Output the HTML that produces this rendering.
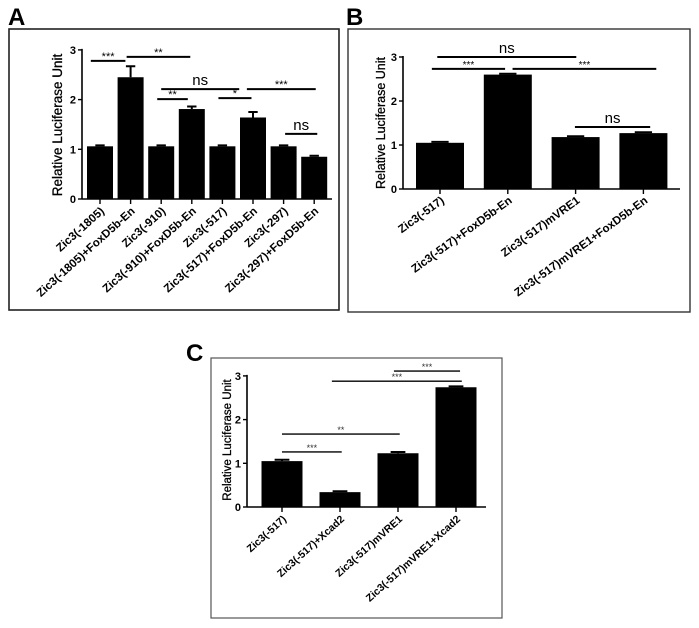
<!DOCTYPE html>
<html><head><meta charset="utf-8"><style>
html,body{margin:0;padding:0;background:#fff;}
svg{display:block;font-family:"Liberation Sans",sans-serif;}
</style></head><body>
<svg id="fig" width="699" height="628" viewBox="0 0 699 628">
  <text x="8" y="25" font-size="24" font-weight="bold">A</text>
  <rect x="9" y="29" width="330" height="281" fill="none" stroke="#222" stroke-width="1.6"/>
  <text x="346" y="25" font-size="24" font-weight="bold">B</text>
  <rect x="348" y="29" width="342" height="283" fill="none" stroke="#333" stroke-width="1.4"/>
  <text x="186" y="361" font-size="24" font-weight="bold">C</text>
  <rect x="211" y="358" width="291" height="260" fill="none" stroke="#555" stroke-width="1.2"/>
</svg>
<script>
// Panel A data
const catsA = ["Zic3(-1805)","Zic3(-1805)+FoxD5b-En","Zic3(-910)","Zic3(-910)+FoxD5b-En","Zic3(-517)","Zic3(-517)+FoxD5b-En","Zic3(-297)","Zic3(-297)+FoxD5b-En"];
const valsA = [1.06, 2.45, 1.06, 1.81, 1.06, 1.64, 1.06, 0.85];
const errsA = [0.02, 0.22, 0.02, 0.05, 0.02, 0.11, 0.02, 0.02];
const sigA = [[-0.3,0.83,2.78,"***"],[0.87,2.95,2.86,"**"],[2.0,4.55,2.21,"ns"],[1.87,2.87,2.01,"**"],[3.87,4.95,2.03,"*"],[4.8,7.05,2.21,"***"],[6.05,7.1,1.31,"ns"]];
// Panel B data
const catsB = ["Zic3(-517)","Zic3(-517)+FoxD5b-En","Zic3(-517)mVRE1","Zic3(-517)mVRE1+FoxD5b-En"];
const valsB = [1.05, 2.6, 1.18, 1.27];
const errsB = [0.02, 0.02, 0.02, 0.02];
const sigB = [[-0.04,2.01,3.0,"ns"],[-0.12,0.96,2.73,"***"],[1.07,3.19,2.73,"***"],[1.99,3.1,1.41,"ns"]];
// Panel C data
const catsC = ["Zic3(-517)","Zic3(-517)+Xcad2","Zic3(-517)mVRE1","Zic3(-517)mVRE1+Xcad2"];
const valsC = [1.05, 0.34, 1.23, 2.74];
const errsC = [0.03, 0.02, 0.03, 0.02];
const sigC = [[1.93,3.07,3.11,"***"],[0.86,3.1,2.88,"***"],[0,2.03,1.67,"**"],[0,1.03,1.26,"***"]];
const yTicks = [0,1,2,3];

const NS="http://www.w3.org/2000/svg";
const svg=document.getElementById('fig');
function mk(tag,attrs,parent){const e=document.createElementNS(NS,tag);for(const k in attrs)e.setAttribute(k,attrs[k]);(parent||svg).appendChild(e);return e;}

function panel(p){
  const g=mk('g',{});
  
  
  const y=v=>p.y0-v*p.unit;
  const x=i=>p.c0+i*p.step;
  p.vals.forEach((v,i)=>{
    const r=mk('rect',{x:x(i)-p.bw/2,y:y(v),width:p.bw,height:p.y0-y(v),fill:'#000'},g);
    
    
    const e=p.errs[i];
    const eb=mk('path',{d:`M${x(i)} ${y(v)} V${y(v+e)} M${x(i)-p.bw*0.18} ${y(v+e)} H${x(i)+p.bw*0.18}`,stroke:'#000','stroke-width':2,fill:'none'},g);
    
    
  });
  const ya=mk('line',{x1:p.ax,y1:y(3)-1,x2:p.ax,y2:p.y0,stroke:'#000','stroke-width':1.6},g);
  
  
  const xa=mk('line',{x1:p.ax,y1:p.y0,x2:p.axEnd,y2:p.y0,stroke:'#000','stroke-width':1.6},g);
  
  
  yTicks.forEach(t=>{
    mk('line',{x1:p.ax-4,y1:y(t),x2:p.ax,y2:y(t),stroke:'#000','stroke-width':1.4},g);
    const tx=mk('text',{x:p.ax-6,y:y(t)+4,'text-anchor':'end','font-size':11,'font-weight':'bold'},g);
    tx.textContent=t;
    
    
  });
  const yl=mk('text',{x:0,y:0,transform:`translate(${p.ylx},${p.yly}) rotate(-90)`,'text-anchor':'middle','font-size':p.ylfs,'stroke':'#000','stroke-width':0.3},g);
  yl.textContent='Relative Luciferase Unit';
  
  
  p.cats.forEach((c,i)=>{
    mk('line',{x1:x(i),y1:p.y0,x2:x(i),y2:p.y0+5,stroke:'#000','stroke-width':1.4},g);
    const lx=x(i)+5, ly=p.y0+13;
    const t=mk('text',{x:0,y:0,transform:`translate(${lx},${ly}) rotate(${p.rot})`,'text-anchor':'end','font-size':p.xfs,'font-weight':'bold'},g);
    t.textContent=c;
    
    
  });
  p.sig.forEach((s,k)=>{
    const l=mk('line',{x1:x(s[0]),y1:y(s[2]),x2:x(s[1]),y2:y(s[2]),stroke:'#000','stroke-width':p.sw},g);
    
    
    const ns=s[3]==='ns';
    const t=mk('text',{x:(x(s[0])+x(s[1]))/2,y:y(s[2])-(ns?4:1),'text-anchor':'middle','font-size':ns?p.nsfs:p.stfs,fill:p.stcol},g);
    t.textContent=s[3];
    
    
  });
}
panel({name:'panel-a',cats:catsA,vals:valsA,errs:errsA,sig:sigA,y0:199,unit:49.7,c0:100,step:30.6,bw:26,ax:82,axEnd:332,ylx:62,yly:125,ylfs:13.5,xfs:11.5,rot:-42,sw:2,nsfs:15,stfs:11,stcol:'#000'});
panel({name:'panel-b',cats:catsB,vals:valsB,errs:errsB,sig:sigB,y0:189,unit:44,c0:440,step:67.8,bw:48,ax:403,axEnd:680,ylx:385,yly:123,ylfs:12.5,xfs:11.5,rot:-36,sw:2,nsfs:15,stfs:10,stcol:'#000'});
panel({name:'panel-c',cats:catsC,vals:valsC,errs:errsC,sig:sigC,y0:507,unit:43.7,c0:282,step:58,bw:41,ax:247,axEnd:486,ylx:231,yly:440,ylfs:11.5,xfs:10.5,rot:-42,sw:1.4,nsfs:13,stfs:9,stcol:'#333'});
</script>
</body></html>
